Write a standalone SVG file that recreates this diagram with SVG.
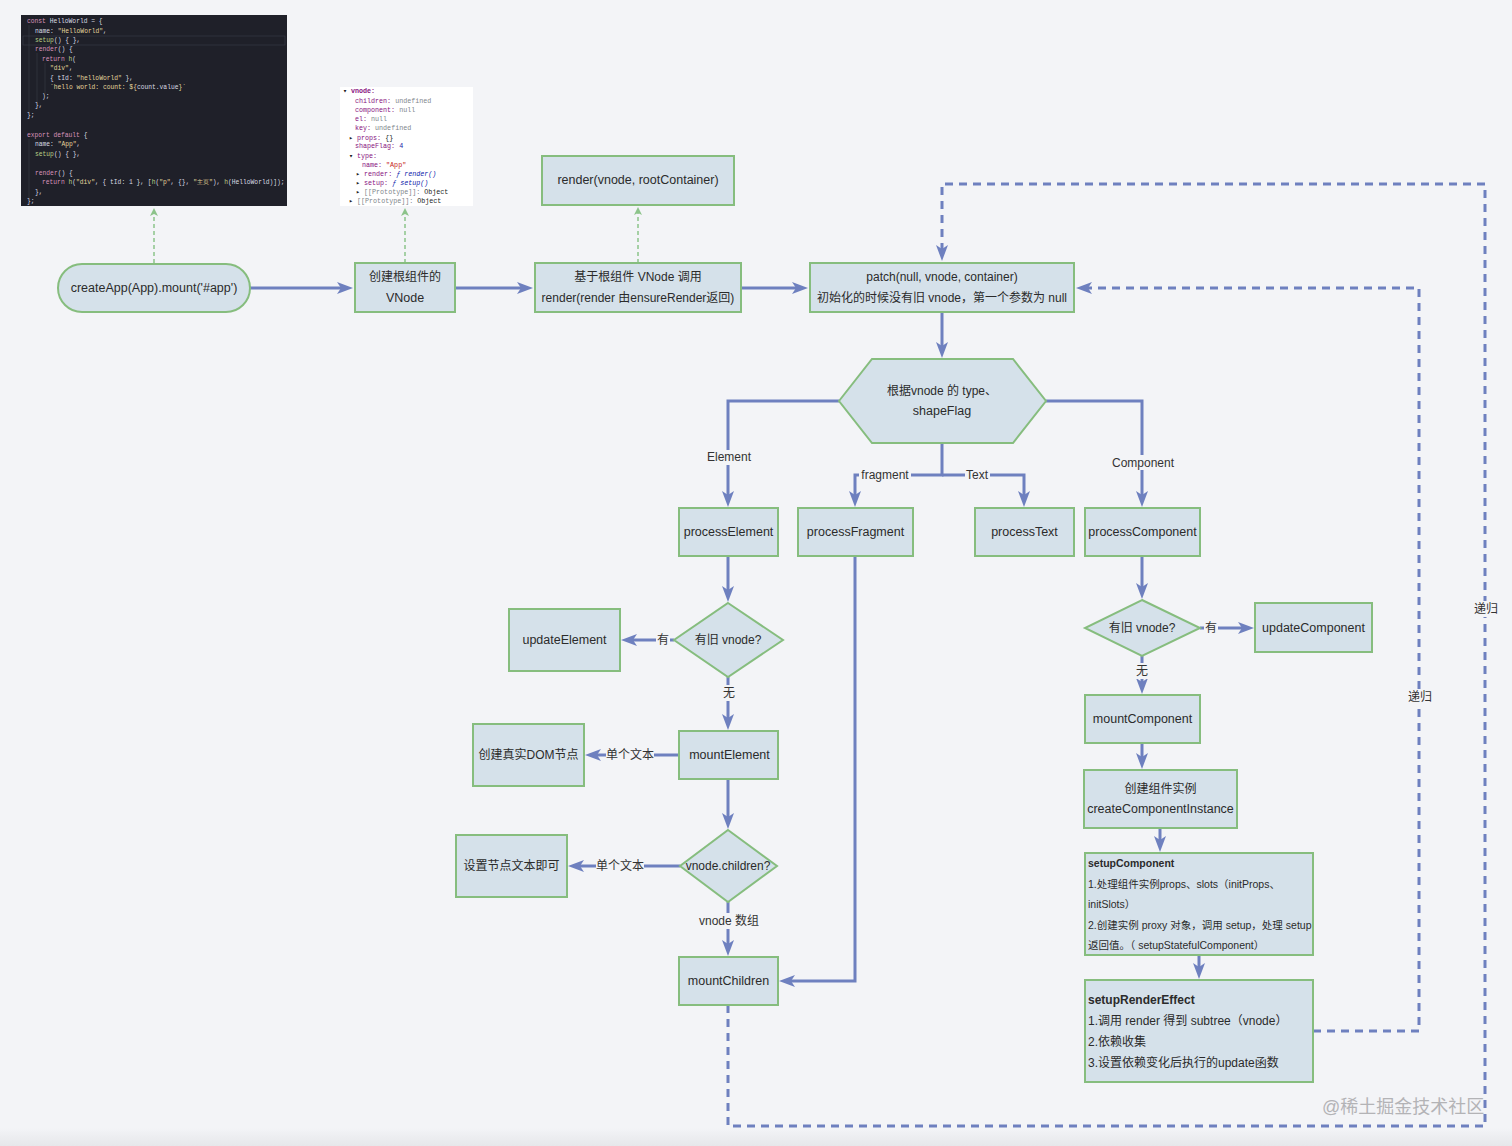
<svg xmlns="http://www.w3.org/2000/svg" width="1512" height="1146" viewBox="0 0 1512 1146">
<defs>
<style>
.nd{fill:#d5e1ea;stroke:#86bd7e;stroke-width:2}
.t{font-family:"Liberation Sans","Noto Sans CJK SC",sans-serif;font-size:12.5px;fill:#2b2b2b;text-anchor:middle;dominant-baseline:central}
.s{font-size:12px}
.tl{font-family:"Liberation Sans","Noto Sans CJK SC",sans-serif;fill:#2b2b2b;dominant-baseline:central}
.lb{font-family:"Liberation Sans","Noto Sans CJK SC",sans-serif;font-size:12px;fill:#333;text-anchor:middle;dominant-baseline:central}
.c{fill:none;stroke:#6e80bf;stroke-width:3}
.d{fill:none;stroke:#6e80bf;stroke-width:3;stroke-dasharray:8 6}
.g{fill:none;stroke:#8cc38a;stroke-width:1.5;stroke-dasharray:4 3}
.bg{fill:#f3f4f7}
.code{font-family:"Liberation Mono",monospace;font-size:6.3px;fill:#d8dbe2}
.kw{fill:#d993bb}
.st{fill:#e3d59c}
.fn{fill:#b9cf85}
.vn{font-family:"Liberation Mono",monospace;font-size:6.7px;fill:#222}
.k{fill:#881280}
.gr{fill:#80868b}
</style>
<marker id="a" markerUnits="userSpaceOnUse" markerWidth="17" markerHeight="13" refX="4" refY="6" orient="auto">
<path d="M0,0 L16,6 L0,12 L4,6 Z" fill="#6e80bf"/>
</marker>
<marker id="ag" markerUnits="userSpaceOnUse" markerWidth="9" markerHeight="8" refX="8" refY="4" orient="auto">
<path d="M0,0 L8,4 L0,8 L2,4 Z" fill="#8cc38a"/>
</marker>
<linearGradient id="sh" x1="0" y1="0" x2="0" y2="1">
<stop offset="0" stop-color="#f3f4f7"/>
<stop offset="1" stop-color="#e6e7ea"/>
</linearGradient>
</defs>
<rect width="1512" height="1146" fill="#f3f4f7"/>
<rect x="0" y="1128" width="1512" height="18" fill="url(#sh)"/>

<g id="code-image">
<rect x="21" y="15" width="266" height="191" fill="#1f2029"/>
<line x1="29" y1="25" x2="29" y2="113" stroke="#3a3c48" stroke-width="0.6"/>
<line x1="37" y1="53" x2="37" y2="103" stroke="#3a3c48" stroke-width="0.6"/>
<line x1="45" y1="63" x2="45" y2="94" stroke="#3a3c48" stroke-width="0.6"/>
<line x1="29" y1="139" x2="29" y2="199" stroke="#3a3c48" stroke-width="0.6"/>
<rect x="23" y="36" width="262" height="9" fill="none" stroke="#3b3d4a" stroke-width="0.6"/>
<text class="code" x="27" y="23"><tspan class="kw">const</tspan> HelloWorld = {</text>
<text class="code" x="35" y="33">name: <tspan class="st">"HelloWorld"</tspan>,</text>
<text class="code" x="35" y="42"><tspan class="fn">setup</tspan>() { },</text>
<text class="code" x="35" y="51"><tspan class="kw">render</tspan>() {</text>
<text class="code" x="42" y="61"><tspan class="kw">return</tspan> <tspan class="fn">h</tspan>(</text>
<text class="code" x="50" y="70"><tspan class="st">"div"</tspan>,</text>
<text class="code" x="50" y="80">{ tId: <tspan class="st">"helloWorld"</tspan> },</text>
<text class="code" x="50" y="89"><tspan class="st">`hello world: count: ${</tspan>count.value<tspan class="st">}`</tspan></text>
<text class="code" x="42" y="98">);</text>
<text class="code" x="35" y="107">},</text>
<text class="code" x="27" y="117">};</text>
<text class="code" x="27" y="137"><tspan class="kw">export default</tspan> {</text>
<text class="code" x="35" y="146">name: <tspan class="st">"App"</tspan>,</text>
<text class="code" x="35" y="156"><tspan class="fn">setup</tspan>() { },</text>
<text class="code" x="35" y="175"><tspan class="kw">render</tspan>() {</text>
<text class="code" x="42" y="184"><tspan class="kw">return</tspan> <tspan class="fn">h</tspan>(<tspan class="st">"div"</tspan>, { tId: 1 }, [<tspan class="fn">h</tspan>(<tspan class="st">"p"</tspan>, {}, <tspan class="st">"主页"</tspan>), <tspan class="fn">h</tspan>(HelloWorld)]);</text>
<text class="code" x="35" y="194">},</text>
<text class="code" x="27" y="203">};</text>
</g>

<g id="vnode-panel">
<rect x="340" y="87" width="133" height="119" fill="#ffffff"/>
<text class="vn" x="343" y="93.3">▾ <tspan class="k" font-weight="bold">vnode:</tspan></text>
<text class="vn" x="355" y="103"><tspan class="k">children:</tspan> <tspan class="gr">undefined</tspan></text>
<text class="vn" x="355" y="111.6"><tspan class="k">component:</tspan> <tspan class="gr">null</tspan></text>
<text class="vn" x="355" y="121"><tspan class="k">el:</tspan> <tspan class="gr">null</tspan></text>
<text class="vn" x="355" y="130.3"><tspan class="k">key:</tspan> <tspan class="gr">undefined</tspan></text>
<text class="vn" x="349" y="139.6">▸ <tspan class="k">props:</tspan> {}</text>
<text class="vn" x="355" y="148.3"><tspan class="k">shapeFlag:</tspan> <tspan fill="#1a1aa6">4</tspan></text>
<text class="vn" x="349" y="157.6">▾ <tspan class="k">type:</tspan></text>
<text class="vn" x="362" y="166.6"><tspan class="k">name:</tspan> <tspan fill="#c41a16">"App"</tspan></text>
<text class="vn" x="356" y="176">▸ <tspan class="k">render:</tspan> <tspan fill="#0d22aa" font-style="italic">ƒ render()</tspan></text>
<text class="vn" x="356" y="185">▸ <tspan class="k">setup:</tspan> <tspan fill="#0d22aa" font-style="italic">ƒ setup()</tspan></text>
<text class="vn" x="356" y="194">▸ <tspan class="gr">[[Prototype]]:</tspan> Object</text>
<text class="vn" x="349" y="203">▸ <tspan class="gr">[[Prototype]]:</tspan> Object</text>
</g>

<g id="connectors">
<path class="g" d="M154,263 V208" marker-end="url(#ag)"/>
<path class="g" d="M405,263 V208" marker-end="url(#ag)"/>
<path class="g" d="M638,263 V207" marker-end="url(#ag)"/>
<path class="c" d="M250,288 H341" marker-end="url(#a)"/>
<path class="c" d="M455,288 H521" marker-end="url(#a)"/>
<path class="c" d="M741,288 H796" marker-end="url(#a)"/>
<path class="c" d="M942,312 V346" marker-end="url(#a)"/>
<path class="c" d="M839,401 H728 V495" marker-end="url(#a)"/>
<path class="c" d="M942,443 V475 H855 V495" marker-end="url(#a)"/>
<path class="c" d="M942,475 H1024 V495" marker-end="url(#a)"/>
<path class="c" d="M1046,401 H1142 V495" marker-end="url(#a)"/>
<path class="c" d="M728,556 V590" marker-end="url(#a)"/>
<path class="c" d="M674,640 H633" marker-end="url(#a)"/>
<path class="c" d="M728,677 V718" marker-end="url(#a)"/>
<path class="c" d="M679,755 H597" marker-end="url(#a)"/>
<path class="c" d="M728,779 V817" marker-end="url(#a)"/>
<path class="c" d="M680,866 H580" marker-end="url(#a)"/>
<path class="c" d="M728,902 V944" marker-end="url(#a)"/>
<path class="c" d="M855,556 V981 H791" marker-end="url(#a)"/>
<path class="c" d="M1142,556 V587" marker-end="url(#a)"/>
<path class="c" d="M1200,628 H1242" marker-end="url(#a)"/>
<path class="c" d="M1142,656 V682" marker-end="url(#a)"/>
<path class="c" d="M1142,743 V757" marker-end="url(#a)"/>
<path class="c" d="M1160,828 V840" marker-end="url(#a)"/>
<path class="c" d="M1199,955 V967" marker-end="url(#a)"/>
<path class="d" d="M1313,1031 H1419 V288 H1088" marker-end="url(#a)"/>
<path class="d" d="M728,1005 V1126 H1485 V184 H942 V249" marker-end="url(#a)"/>

<rect class="bg" x="705" y="450" width="48" height="15"/>
<text class="lb" x="729" y="457">Element</text>
<rect class="bg" x="859" y="468" width="52" height="15"/>
<text class="lb" x="885" y="475">fragment</text>
<rect class="bg" x="965" y="468" width="25" height="15"/>
<text class="lb" x="977" y="475">Text</text>
<rect class="bg" x="1110" y="455" width="66" height="15"/>
<text class="lb" x="1143" y="463">Component</text>
<rect class="bg" x="656" y="632" width="14" height="16"/>
<text class="lb" x="663" y="640">有</text>
<rect class="bg" x="722" y="685" width="14" height="16"/>
<text class="lb" x="729" y="693">无</text>
<rect class="bg" x="606" y="747" width="48" height="16"/>
<text class="lb" x="630" y="755">单个文本</text>
<rect class="bg" x="596" y="858" width="48" height="16"/>
<text class="lb" x="620" y="866">单个文本</text>
<rect class="bg" x="697" y="913" width="64" height="16"/>
<text class="lb" x="729" y="921">vnode 数组</text>
<rect class="bg" x="1204" y="620" width="14" height="16"/>
<text class="lb" x="1211" y="628">有</text>
<rect class="bg" x="1135" y="663" width="14" height="16"/>
<text class="lb" x="1142" y="671">无</text>
<rect class="bg" x="1406" y="689" width="28" height="16"/>
<text class="lb" x="1420" y="697">递归</text>
<rect class="bg" x="1472" y="601" width="28" height="16"/>
<text class="lb" x="1486" y="609">递归</text>
</g>

<g id="createApp">
<rect class="nd" x="58" y="264" width="192" height="48" rx="24"/>
<text class="t" x="154" y="288">createApp(App).mount('#app')</text>
</g>
<g id="create-root-vnode">
<rect class="nd" x="355" y="263" width="100" height="49"/>
<text class="t s" x="405" y="277">创建根组件的</text>
<text class="t" x="405" y="298">VNode</text>
</g>
<g id="call-render">
<rect class="nd" x="535" y="263" width="206" height="49"/>
<text class="t s" x="638" y="277">基于根组件 VNode 调用</text>
<text class="t s" x="638" y="298">render(render 由ensureRender返回)</text>
</g>
<g id="render-fn">
<rect class="nd" x="542" y="156" width="192" height="49"/>
<text class="t" x="638" y="180">render(vnode, rootContainer)</text>
</g>
<g id="patch">
<rect class="nd" x="810" y="263" width="264" height="49"/>
<text class="t s" x="942" y="277">patch(null, vnode, container)</text>
<text class="t s" x="942" y="298">初始化的时候没有旧 vnode，第一个参数为 null</text>
</g>
<g id="type-switch">
<polygon class="nd" points="839,401 872,359 1013,359 1046,401 1013,443 872,443"/>
<text class="t s" x="942" y="391">根据vnode 的 type、</text>
<text class="t" x="942" y="411">shapeFlag</text>
</g>
<g id="processElement">
<rect class="nd" x="679" y="508" width="99" height="48"/>
<text class="t" x="728.5" y="532">processElement</text>
</g>
<g id="processFragment">
<rect class="nd" x="798" y="508" width="115" height="48"/>
<text class="t" x="855.5" y="532">processFragment</text>
</g>
<g id="processText">
<rect class="nd" x="975" y="508" width="99" height="48"/>
<text class="t" x="1024.5" y="532">processText</text>
</g>
<g id="processComponent">
<rect class="nd" x="1085" y="508" width="115" height="48"/>
<text class="t" x="1142.5" y="532">processComponent</text>
</g>
<g id="element-old-vnode">
<polygon class="nd" points="728,603 783,640 728,677 674,640"/>
<text class="t s" x="728" y="640">有旧 vnode?</text>
</g>
<g id="updateElement">
<rect class="nd" x="509" y="609" width="111" height="62"/>
<text class="t" x="564.5" y="640">updateElement</text>
</g>
<g id="mountElement">
<rect class="nd" x="679" y="731" width="99" height="48"/>
<text class="t" x="729.5" y="755">mountElement</text>
</g>
<g id="create-dom">
<rect class="nd" x="473" y="724" width="111" height="62"/>
<text class="t s" x="528.5" y="755">创建真实DOM节点</text>
</g>
<g id="children-check">
<polygon class="nd" points="728,830 777,866 728,902 680,866"/>
<text class="t s" x="728" y="866">vnode.children?</text>
</g>
<g id="set-text">
<rect class="nd" x="456" y="835" width="111" height="62"/>
<text class="t s" x="511.5" y="866">设置节点文本即可</text>
</g>
<g id="mountChildren">
<rect class="nd" x="679" y="957" width="99" height="48"/>
<text class="t" x="728.5" y="981">mountChildren</text>
</g>
<g id="component-old-vnode">
<polygon class="nd" points="1142,600 1200,628 1142,656 1085,628"/>
<text class="t s" x="1142" y="628">有旧 vnode?</text>
</g>
<g id="updateComponent">
<rect class="nd" x="1255" y="603" width="117" height="49"/>
<text class="t" x="1313.5" y="628">updateComponent</text>
</g>
<g id="mountComponent">
<rect class="nd" x="1085" y="695" width="115" height="48"/>
<text class="t" x="1142.5" y="719">mountComponent</text>
</g>
<g id="createComponentInstance">
<rect class="nd" x="1084" y="770" width="153" height="58"/>
<text class="t s" x="1160.5" y="789">创建组件实例</text>
<text class="t" x="1160.5" y="809">createComponentInstance</text>
</g>
<g id="setupComponent">
<rect class="nd" x="1085" y="853" width="228" height="102"/>
<text class="tl" x="1088" y="863" font-size="10.5" font-weight="bold">setupComponent</text>
<text class="tl" x="1088" y="884" font-size="10.5">1.处理组件实例props、slots（initProps、</text>
<text class="tl" x="1088" y="904" font-size="10.5">initSlots）</text>
<text class="tl" x="1088" y="925" font-size="10.5">2.创建实例 proxy 对象，调用 setup，处理 setup</text>
<text class="tl" x="1088" y="945" font-size="10.5">返回值。（ setupStatefulComponent）</text>
</g>
<g id="setupRenderEffect">
<rect class="nd" x="1085" y="980" width="228" height="102"/>
<text class="tl" x="1088" y="1000" font-size="12" font-weight="bold">setupRenderEffect</text>
<text class="tl" x="1088" y="1021" font-size="12">1.调用 render 得到 subtree（vnode）</text>
<text class="tl" x="1088" y="1042" font-size="12">2.依赖收集</text>
<text class="tl" x="1088" y="1063" font-size="12">3.设置依赖变化后执行的update函数</text>
</g>

<text x="1322" y="1113" font-family="Liberation Sans,'Noto Sans CJK SC',sans-serif" font-size="18" fill="#b3b3b6">@稀土掘金技术社区</text>
</svg>
